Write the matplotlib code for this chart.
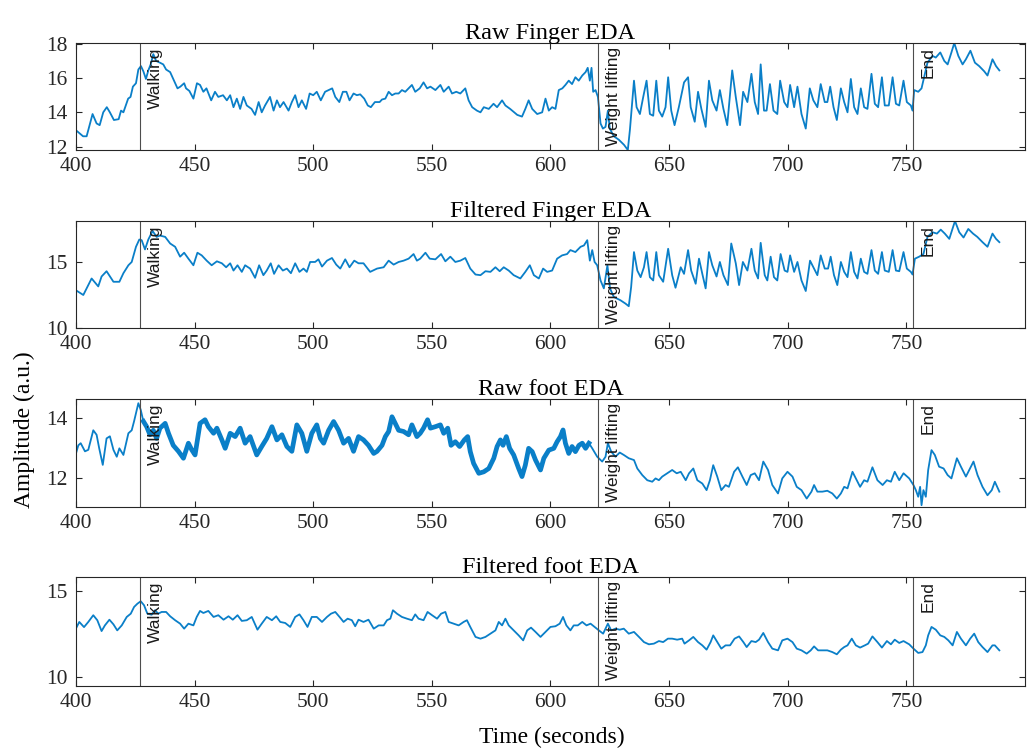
import matplotlib.pyplot as plt
import numpy as np

# --------------------------------------------------------------------------- #
# Data
# --------------------------------------------------------------------------- #
event_times = [427, 620, 753]
event_labels = ["Walking", "Weight lifting", "End"]

finger_raw_t = [
    399.6, 403, 404.5, 407, 408.7, 410, 411.5, 413, 414.3, 416, 418, 419, 420, 422, 423, 424,
    425.3, 426.3, 427.4, 428.4, 429.5, 430.5, 431.5, 432.6, 433.8, 435.4, 436.8, 438, 439.7,
    441, 442.8, 444, 445.6, 446.4, 447.8, 449.5, 451, 452.3, 453.7, 455, 457, 458.6, 460, 462,
    463.6, 465, 466.4, 467.8, 469.2, 470.6, 472, 474, 475.5, 477, 478.3, 479.7, 481.8, 483.3,
    484.7, 486, 487.5, 489.6, 491, 492.4, 493.8, 495.2, 497, 498.5, 500, 501.5, 503.2, 505,
    506.5, 508, 509.3, 511, 512.5, 514, 515.3, 517, 518.4, 519.8, 521.5, 523, 524.3, 526,
    528, 529, 530.4, 531.8, 533.2, 534.6, 536, 537.4, 538.8, 540.2, 541.6, 543, 544.9, 546.5,
    548, 549.4, 551.5, 553.6, 555, 557.1, 558.5, 560.3, 562, 564.1, 565.5, 567, 569, 570.5,
    571.9, 574, 576, 577.5, 579.6, 581, 583, 586, 588, 589.4, 590.8, 592.3, 594.4, 596.5,
    597.9, 599.3, 600.7, 602.1, 603.5, 605, 606.3, 607.7, 609.1, 610.5, 611.9, 613.4, 614.8,
    615.7, 616.6, 617.3, 618, 619, 620, 621.1, 622.1, 623.2, 624.2, 625, 626.7, 628.8, 631,
    632.6, 633.5, 634.4, 635.2, 636.3, 637.7, 639.1, 640.5, 641.9, 643.3, 644.6, 645.7, 647.1,
    648.5, 649.6, 650.9, 652.3, 654.1, 656.3, 658, 659.1, 660.8, 662.2, 663.6, 665.4, 666.8,
    668.2, 670, 671.4, 672.9, 674.5, 676.6, 678.1, 679.9, 681.2, 683, 684.7, 686.1, 687.5,
    688.6, 690, 691.1, 692.5, 694, 695.6, 696.8, 698.5, 699.9, 701, 702.7, 704.1, 705.8,
    707.6, 709.3, 710.8, 712.5, 713.9, 715.6, 716.7, 717.9, 719.3, 720.7, 722.4, 723.8, 725.2,
    726.6, 728, 729.4, 730.8, 732.2, 733.6, 735.3, 736.7, 738.1, 739.7, 740.9, 742.6, 744.2,
    745.6, 747, 748.8, 750.2, 751.9, 752.6, 753.3, 755, 756.4, 758.9, 761, 762.4, 764.3, 766,
    767.4, 769, 770.2, 771.9, 773.7, 775.1, 777, 778.9, 780.7, 782.8, 784.2, 786.3, 787.8, 789.2,
]
finger_raw_v = [
    13.0, 12.6, 12.6, 13.9, 13.35, 13.25, 14.0, 14.3, 14.0, 13.55, 13.6, 14.1, 14.0, 14.8, 14.9,
    15.5, 15.7, 16.5, 16.7, 16.4, 15.95, 16.45, 16.8, 17.4, 17.0, 16.9, 16.8, 16.5, 16.35,
    15.95, 15.4, 15.5, 15.7, 15.4, 15.25, 14.8, 15.7, 15.6, 15.2, 15.4, 14.7, 15.2, 14.9, 15.0,
    14.7, 15.0, 14.3, 14.8, 14.2, 14.9, 14.4, 14.2, 13.85, 14.6, 14.0, 14.4, 14.9, 14.1,
    14.7, 14.3, 14.6, 14.1, 14.6, 15.0, 14.3, 14.7, 14.2, 15.1, 15.0, 15.2, 14.7, 15.2,
    15.3, 15.4, 14.9, 14.6, 15.2, 15.2, 14.7, 15.1, 15.0, 15.05, 14.8, 14.4, 14.3, 14.6,
    14.6, 14.75, 14.8, 15.2, 15.0, 15.1, 15.1, 15.3, 15.2, 15.4, 15.6, 15.2, 15.4, 15.75,
    15.4, 15.5, 15.3, 15.6, 15.2, 15.5, 15.1, 15.2, 15.1, 15.4, 14.7, 14.3, 14.1, 14.0,
    14.3, 14.2, 14.5, 14.3, 14.7, 14.4, 14.2, 13.85, 13.75, 14.2, 14.7, 14.2, 13.9, 14.0,
    14.8, 14.1, 14.3, 14.2, 15.3, 15.4, 15.6, 15.85, 15.65, 16.05, 15.85, 16.15, 16.35,
    16.6, 15.85, 16.6, 15.2, 15.3, 14.9, 13.35, 13.05, 13.15, 14.1, 13.05, 12.6, 12.4, 12.1,
    11.8, 13.0, 14.5, 15.85, 14.3, 13.9, 14.9, 15.85, 13.9, 13.8, 15.85, 14.1, 13.75,
    14.3, 16.05, 14.1, 13.25, 14.3, 15.75, 16.05, 14.3, 13.45, 15.2, 14.2, 13.15, 15.85,
    14.7, 14.1, 15.3, 14.2, 13.25, 16.45, 14.9, 13.25, 15.2, 14.6, 16.25, 14.6, 13.9,
    16.8, 14.1, 14.1, 15.65, 14.1, 13.9, 15.85, 14.6, 14.3, 15.6, 14.3, 15.5, 13.9,
    13.05, 15.4, 14.7, 14.3, 15.65, 14.6, 14.6, 15.5, 14.3, 13.55, 15.4, 14.6, 14.0,
    15.95, 14.3, 13.9, 15.4, 14.3, 14.2, 16.25, 14.5, 14.3, 16.05, 14.4, 14.4, 16.05,
    14.5, 14.4, 15.85, 14.6, 14.4, 14.1, 15.3, 15.2, 15.4, 16.9, 17.3, 17.2, 17.5, 17.0,
    16.8, 17.5, 18.05, 17.3, 16.8, 17.1, 17.6, 16.9, 16.7, 16.4, 16.15, 17.1, 16.7, 16.45,
]

finger_filt_t = [
    399.6, 403.1, 406.6, 409.4, 410.8, 412.9, 415.8, 418.3, 420, 422.1, 423.5, 425.3, 426.7,
    427.7, 429.1, 430.5, 432.3, 434, 435.4, 437.6, 439.7, 441.8, 443.9, 445.6, 447.4, 449.5,
    451.2, 453, 455.1, 457.2, 459.4, 461.5, 463.3, 465, 466.4, 468.1, 469.9, 471.3, 473.4,
    475.5, 477.2, 479, 480.4, 482.1, 483.5, 485.4, 487.2, 488.9, 490.6, 492.4, 494.2, 495.9,
    497.3, 498.7, 500.8, 502.2, 503.7, 505.8, 507.9, 509.7, 511.4, 513.5, 515.3, 517.3, 519.1,
    521.2, 524, 526.9, 529.7, 531.8, 533.9, 536, 538.1, 540.2, 542.3, 543.7, 545.1, 547.3,
    549.1, 551.5, 553.9, 555.7, 557.8, 559.9, 562, 564.1, 566.2, 568.4, 570.5, 572.6, 574.7,
    576.8, 578.6, 580.3, 582.4, 584.5, 587.3, 589.4, 591.3, 593, 595.1, 596.9, 598.6, 600.7,
    602.8, 604.9, 607, 608.4, 610.5, 612.7, 614.1, 615.5, 616.6, 617.6, 618.6, 619.7, 621.1,
    622.5, 624, 625.1, 626.7, 629.5, 631.6, 633, 634, 635.2, 636.6, 638, 639.4, 640.5, 641.9,
    643.3, 644.6, 645.7, 647.5, 649.6, 651.3, 652.7, 654.9, 656.3, 658, 659.3, 661.2, 662.6,
    664, 665.4, 666.8, 668.2, 670, 671.4, 672.9, 674.8, 676.2, 678.1, 679.5, 681.1, 683,
    684.7, 686.1, 687.5, 688.6, 690.3, 691.4, 692.8, 694.2, 695.6, 697, 698.7, 699.9, 701,
    702.7, 704.1, 705.8, 707.6, 709.4, 710.8, 712.5, 713.9, 715.6, 717, 718.1, 719.5, 720.9,
    722.4, 723.8, 725.2, 726.6, 728, 729.4, 730.8, 732.2, 733.6, 735.3, 736.7, 738.1, 739.7,
    740.9, 742.6, 744.2, 745.6, 747, 748.8, 750.2, 751.9, 752.6, 753.6, 755.4, 757.2, 758.9,
    761, 762.9, 764.5, 766.2, 768.1, 770.5, 772.3, 774.1, 776.1, 778.1, 779.9, 782.1, 784.2,
    786.3, 787.8, 789.2,
]
finger_filt_v = [
    12.9, 12.5, 13.75, 13.15, 13.9, 14.3, 13.5, 13.5, 14.15, 14.75, 15.0, 16.15, 16.7,
    16.65, 15.95, 16.7, 17.35, 16.9, 17.0, 16.9, 16.4, 16.15, 15.4, 15.7, 15.25, 14.75,
    15.7, 15.5, 15.1, 14.75, 15.05, 14.9, 14.6, 14.9, 14.35, 14.75, 14.25, 14.75, 14.5,
    13.8, 14.75, 14.0, 14.35, 14.9, 14.1, 14.75, 14.35, 14.5, 14.15, 14.9, 14.25, 14.5,
    14.25, 15.0, 15.0, 15.2, 14.65, 15.1, 15.3, 14.8, 14.5, 15.2, 14.6, 15.1, 14.9,
    14.9, 14.25, 14.5, 14.6, 15.1, 14.8, 15.0, 15.1, 15.25, 15.6, 15.1, 15.25, 15.7,
    15.25, 15.2, 15.6, 15.05, 15.4, 15.0, 15.1, 15.3, 14.5, 14.05, 14.0, 14.3, 14.25,
    14.6, 14.3, 14.6, 14.35, 14.0, 13.75, 14.25, 14.75, 14.0, 13.75, 14.5, 14.25, 14.35,
    15.25, 15.5, 15.6, 15.9, 15.75, 16.15, 16.25, 16.65, 15.1, 15.9, 15.0, 14.75, 13.6,
    13.0, 14.75, 13.0, 12.35, 12.1, 11.85, 11.65, 13.1, 15.75, 14.35, 13.85, 14.6, 15.75, 13.85,
    13.6, 15.75, 14.0, 13.5, 16.0, 14.0, 13.05, 14.6, 14.1, 15.9, 14.35, 13.35, 15.25,
    14.1, 13.0, 15.75, 14.75, 13.9, 15.0, 14.0, 13.25, 16.4, 14.9, 13.25, 15.0, 14.35,
    16.0, 14.35, 13.75, 16.45, 14.0, 13.6, 15.4, 13.85, 13.6, 15.6, 14.35, 14.25, 15.5,
    14.25, 15.0, 13.6, 12.8, 15.1, 14.6, 14.0, 15.5, 14.5, 14.5, 15.4, 14.0, 13.25,
    15.0, 14.25, 13.85, 15.75, 14.25, 13.75, 15.25, 14.25, 14.1, 15.9, 14.35, 14.1, 15.75,
    14.35, 14.25, 15.9, 14.35, 14.3, 15.75, 14.5, 14.25, 14.05, 15.25, 15.4, 15.6, 16.9,
    17.25, 17.15, 17.45, 17.15, 16.75, 18.1, 17.25, 16.85, 17.5, 17.15, 16.9, 16.5, 16.15,
    17.15, 16.75, 16.5,
]

foot_raw_t = [
    399.6, 401, 402, 403.8, 405.2, 407.3, 408.7, 409.8, 411.3, 412.9, 414.3, 415.8, 417.2,
    418.3, 420, 422.1, 423.5, 424.5, 425.3, 426.3, 427.3, 428.4, 429.8, 431.2, 432.6, 434,
    435.4, 437.6, 439, 441, 443.2, 445.3, 447.4, 448.8, 450.2, 452.3, 454.4, 455.8, 458,
    459.4, 461.5, 462.9, 465, 467.1, 469.2, 471.3, 473.4, 476.2, 478.3, 480.4, 482.6, 484.7,
    486.8, 488.9, 491, 493.1, 495.2, 497.3, 499.4, 501.5, 503, 504.4, 506.5, 508.6, 510.7,
    512.8, 514.9, 517, 519.1, 521.2, 523.3, 525.5, 526.9, 529, 530.4, 531.8, 533.2, 534.2,
    536, 538.1, 540.2, 541.6, 543.7, 545.1, 546.5, 548.2, 549.4, 551.5, 553.6, 555, 556.7,
    558.1, 559.9, 561.7, 563.7, 565.1, 566.2, 567.6, 569.8, 571.9, 574, 576.1, 577.5, 578.9,
    580, 581.4, 582.8, 584.5, 586.6, 588, 589.4, 590.8, 592.3, 593.7, 595.8, 597.2, 599.3,
    601.4, 602.8, 604.2, 605.3, 606.3, 607.7, 609.1, 610.5, 612, 613.4, 614.8, 616.2, 617.6,
    619.7, 621.8, 623.2, 624.2, 625.6, 627.4, 629.2, 630.9, 633, 635.2, 636.6, 638.7, 640.8,
    642.9, 644.3, 645.7, 647.1, 649.2, 651.3, 653.2, 654.9, 657, 658.4, 660.2, 661.9, 664,
    665.8, 667.2, 668.6, 670.3, 672, 673.8, 675.2, 677.4, 679, 680.9, 682.7, 684.4, 686.1,
    687.9, 689.7, 691.7, 693.5, 695.9, 697.7, 699.9, 702, 703.8, 705.8, 708, 710, 711.1,
    712.5, 714.6, 716.7, 718.8, 720.7, 722.4, 723.8, 725.2, 727.3, 728.7, 730.5, 732.2,
    733.6, 735.7, 737.8, 740, 741.8, 743.5, 745.1, 747, 748.8, 751.2, 753, 754, 755, 755.8,
    756.4, 757.2, 758.2, 759.2, 760.6, 762, 763.8, 765.7, 767.4, 769, 771.3, 773, 775.1,
    776.5, 778.3, 780, 782.1, 784.2, 786, 787.3, 789.2,
]
foot_raw_v = [
    12.72, 13.1, 13.17, 12.9, 12.95, 13.6, 13.45, 13.0, 12.45, 13.33, 13.4, 12.95, 12.72,
    13.0, 12.78, 13.5, 13.6, 13.9, 14.17, 14.5, 14.28, 13.9, 13.72, 13.45, 13.6, 13.33,
    13.67, 13.83, 13.5, 13.1, 12.9, 12.67, 13.17, 12.95, 12.78, 13.83, 13.95, 13.72, 13.5,
    13.67, 13.28, 13.0, 13.5, 13.39, 13.67, 13.17, 13.39, 12.78, 13.06, 13.33, 13.72, 13.28,
    13.45, 13.06, 12.9, 13.78, 13.5, 12.9, 13.5, 13.78, 13.33, 13.17, 13.6, 13.89, 13.6,
    13.17, 13.33, 12.9, 13.39, 13.28, 13.1, 12.83, 12.9, 13.1, 13.39, 13.56, 14.05, 13.89,
    13.6, 13.56, 13.45, 13.78, 13.39, 13.5, 13.67, 13.95, 13.67, 13.72, 13.78, 13.5, 13.67,
    13.1, 13.22, 13.06, 13.28, 13.39, 12.89, 12.5, 12.17, 12.22, 12.33, 12.67, 13.06, 13.28,
    13.1, 13.39, 13.0, 12.78, 12.33, 12.06, 12.44, 13.0, 12.89, 12.61, 12.28, 12.67, 12.94,
    13.0, 13.22, 13.39, 13.61, 13.17, 12.83, 13.06, 12.89, 13.1, 13.17, 13.0, 13.17, 13.0,
    12.72, 12.56, 12.72, 13.17, 12.89, 12.72, 12.86, 12.78, 12.67, 12.61, 12.33, 12.11, 11.94,
    11.89, 12.0, 11.94, 12.06, 12.17, 12.28, 12.17, 12.22, 11.94, 12.17, 12.33, 11.94, 11.83,
    11.61, 11.94, 12.44, 12.06, 11.61, 11.78, 11.72, 12.22, 12.37, 12.06, 11.78, 12.11, 12.17,
    11.94, 12.56, 12.28, 11.78, 11.5, 12.0, 12.22, 12.06, 11.72, 11.61, 11.33, 11.56, 11.78,
    11.56, 11.56, 11.59, 11.5, 11.33, 11.5, 11.72, 11.67, 12.22, 12.0, 11.72, 11.94,
    11.89, 12.37, 11.94, 11.78, 11.94, 11.89, 12.22, 11.94, 12.17, 12.0, 11.78, 11.61, 11.39, 11.72,
    11.11, 11.61, 11.39, 12.28, 12.94, 12.78, 12.39, 12.33, 12.11, 12.0, 12.67, 12.39, 12.06,
    12.28, 12.56, 12.11, 11.72, 11.44, 11.61, 11.89, 11.56,
]
foot_noisy_span = [428, 617]   # stretch where the raw foot trace is a dense noisy band

foot_filt_t = [
    399.6, 401.4, 403.4, 405.2, 407.3, 409, 410.8, 412.2, 414.1, 415.8, 417.4, 419.3, 421.4,
    423.1, 424.5, 425.9, 427.3, 428.7, 430.1, 431.9, 433.3, 434.7, 436.1, 438, 439.7, 441.8,
    443.9, 445.6, 447.4, 449.5, 450.9, 452.3, 453.7, 455.8, 458, 460, 462.2, 464.3, 466.1,
    468.1, 469.9, 472, 474.1, 476.5, 478.3, 480.4, 482.6, 484.4, 486.1, 488.2, 490.3, 492.4,
    494.2, 495.9, 497.6, 499.4, 501.5, 503.7, 505.8, 507.5, 509.3, 511.1, 512.8, 514.5, 516.3,
    517.7, 519.1, 521.2, 523.3, 525.5, 527.6, 529.7, 531.1, 532.5, 533.6, 535.3, 537.4, 539.5,
    541.6, 543, 544.4, 546.5, 548.2, 550.1, 552.2, 553.9, 555.7, 557.1, 559.2, 561.3, 563.4,
    564.8, 566.2, 568.4, 570.5, 572.6, 574.7, 576.8, 578.2, 579.6, 581, 582.4, 584.5, 586.6,
    588.5, 590.2, 591.8, 593.7, 595.8, 597.9, 600, 602.1, 603.9, 605.3, 606.7, 608.4, 609.8,
    611.5, 613.4, 615.2, 616.9, 618.6, 620.4, 622.2, 624.2, 625.6, 627.4, 629.2, 630.9, 633,
    635.2, 637.3, 639.4, 641.5, 643.6, 645.7, 647.5, 649.5, 651.3, 653.4, 655.5, 656.5, 658.4,
    660.2, 662.2, 664, 665.8, 667.5, 668.6, 670.3, 672, 673.8, 675.7, 677.6, 679.5, 681.3,
    682.7, 684.7, 686.5, 687.9, 689.7, 691.7, 693.5, 695.9, 697.7, 699.9, 702, 703.8, 705.8,
    708, 709.7, 711.1, 712.8, 714.6, 716.7, 718.8, 720.7, 722.4, 723.8, 725.2, 727, 728.7,
    730.5, 732.5, 733.9, 735.7, 737.8, 739.7, 741.8, 743.5, 745.1, 747, 748.8, 751.2, 753,
    755, 756.8, 758.2, 759.2, 760.6, 762.4, 764.3, 766, 767.7, 769.5, 771.3, 773, 775.1,
    776.9, 778.6, 780.3, 782.1, 784.2, 786.3, 787.3, 789.2,
]
foot_filt_v = [
    12.71, 13.2, 12.9, 13.2, 13.59, 13.3, 12.67, 13.0, 13.33, 13.06, 12.71, 13.0, 13.49,
    13.68, 14.07, 14.26, 14.4, 14.17, 13.68, 13.62, 13.88, 13.68, 13.78, 13.78, 13.53, 13.3,
    13.1, 12.81, 13.1, 13.0, 13.49, 13.84, 13.72, 13.84, 13.49, 13.59, 13.33, 13.53, 13.33,
    13.59, 13.26, 13.3, 13.49, 12.75, 13.1, 13.49, 13.3, 13.53, 13.2, 13.14, 12.91, 13.49,
    13.64, 13.3, 12.91, 13.49, 13.49, 13.2, 13.49, 13.68, 13.78, 13.49, 13.2, 13.39, 13.3,
    12.95, 13.33, 13.2, 13.33, 12.81, 13.0, 13.0, 13.3, 13.39, 13.88, 13.68, 13.49, 13.39,
    13.3, 13.64, 13.39, 13.3, 13.78, 13.59, 13.39, 13.68, 13.78, 13.2, 13.1, 13.0, 13.2,
    13.3, 12.91, 12.33, 12.23, 12.33, 12.52, 12.71, 13.2, 13.0, 13.39, 13.0, 12.71, 12.42,
    12.13, 12.71, 12.87, 12.62, 12.33, 12.62, 12.91, 12.95, 13.1, 13.49, 13.0, 12.71, 13.0,
    13.0, 13.2, 13.0, 13.1, 12.91, 12.71, 12.52, 13.1, 12.71, 12.81, 12.75, 12.81, 12.52,
    12.62, 12.33, 12.03, 11.9, 11.94, 12.09, 12.03, 12.23, 12.23, 12.17, 12.23, 11.94, 12.13,
    12.33, 12.03, 11.84, 11.59, 12.03, 12.42, 12.03, 11.65, 11.84, 11.84, 12.23, 12.36, 12.03,
    11.74, 12.09, 12.03, 12.17, 12.56, 12.03, 11.65, 11.55, 12.13, 12.23, 12.03, 11.65, 11.55,
    11.36, 11.55, 11.78, 11.55, 11.55, 11.55, 11.45, 11.32, 11.59, 11.74, 11.84, 12.23, 11.84,
    11.71, 11.84, 11.94, 12.36, 12.03, 11.71, 12.09, 11.9, 12.17, 11.98, 12.09, 11.9, 11.65,
    11.4, 11.45, 11.84, 12.42, 12.91, 12.75, 12.42, 12.33, 12.13, 11.84, 12.62, 12.23, 11.84,
    12.23, 12.52, 12.03, 11.74, 11.45, 11.84, 11.84, 11.55,
]

titles = ["Raw Finger EDA", "Filtered Finger EDA", "Raw foot EDA", "Filtered foot EDA"]
ylims = [(11.8, 18.05), (10, 18.1), (11.05, 14.64), (9.48, 15.81)]
yticks = [[12, 14, 16, 18], [10, 15], [12, 14], [10, 15]]
xticks = [400, 450, 500, 550, 600, 650, 700, 750]

# --------------------------------------------------------------------------- #
# Plot
# --------------------------------------------------------------------------- #
plt.rcParams["font.family"] = "Liberation Serif"
LINE = "#0a7fc8"

fig = plt.figure(figsize=(10.32, 7.48), dpi=100)
boxes = [
    [0.0736, 0.7995, 0.9196, 0.143],
    [0.0736, 0.5615, 0.9196, 0.143],
    [0.0736, 0.3222, 0.9196, 0.1444],
    [0.0736, 0.0829, 0.9196, 0.1457],
]
series = [
    (finger_raw_t, finger_raw_v),
    (finger_filt_t, finger_filt_v),
    (foot_raw_t, foot_raw_v),
    (foot_filt_t, foot_filt_v),
]

for i, (box, (t, v)) in enumerate(zip(boxes, series)):
    ax = fig.add_axes(box)
    t = np.asarray(t)
    v = np.asarray(v)
    ax.plot(t, v, color=LINE, lw=1.3)
    if i == 2:
        m = (t >= foot_noisy_span[0]) & (t <= foot_noisy_span[1])
        ax.plot(t[m], v[m], color=LINE, lw=3.4, solid_joinstyle="round")
    for et, lab in zip(event_times, event_labels):
        ax.axvline(et, color="#4d4d4d", lw=0.8)
        ax.text(et + 3.2, ylims[i][1] - 0.04 * (ylims[i][1] - ylims[i][0]), lab,
                rotation=90, ha="left", va="top", fontsize=12.5,
                family="Liberation Sans", color="#1a1a1a")
    ax.set_xlim(400, 800)
    ax.set_ylim(*ylims[i])
    ax.set_xticks(xticks)
    ax.set_yticks(yticks[i])
    ax.tick_params(direction="in", top=True, right=True, labelsize=15.5,
                   length=4, width=0.8, colors="#262626")
    ax.tick_params(axis="x", pad=5)
    ax.tick_params(axis="y", pad=6)
    for s in ax.spines.values():
        s.set_color("#262626")
        s.set_linewidth(0.8)
    ax.set_title(titles[i], fontsize=17.5, pad=3)

fig.text(0.024, 0.425, "Amplitude (a.u.)", rotation=90, ha="center", va="center",
         fontsize=17)
fig.text(0.535, 0.0147, "Time (seconds)", ha="center", va="center", fontsize=17)

fig.savefig("out.png", dpi=100)
